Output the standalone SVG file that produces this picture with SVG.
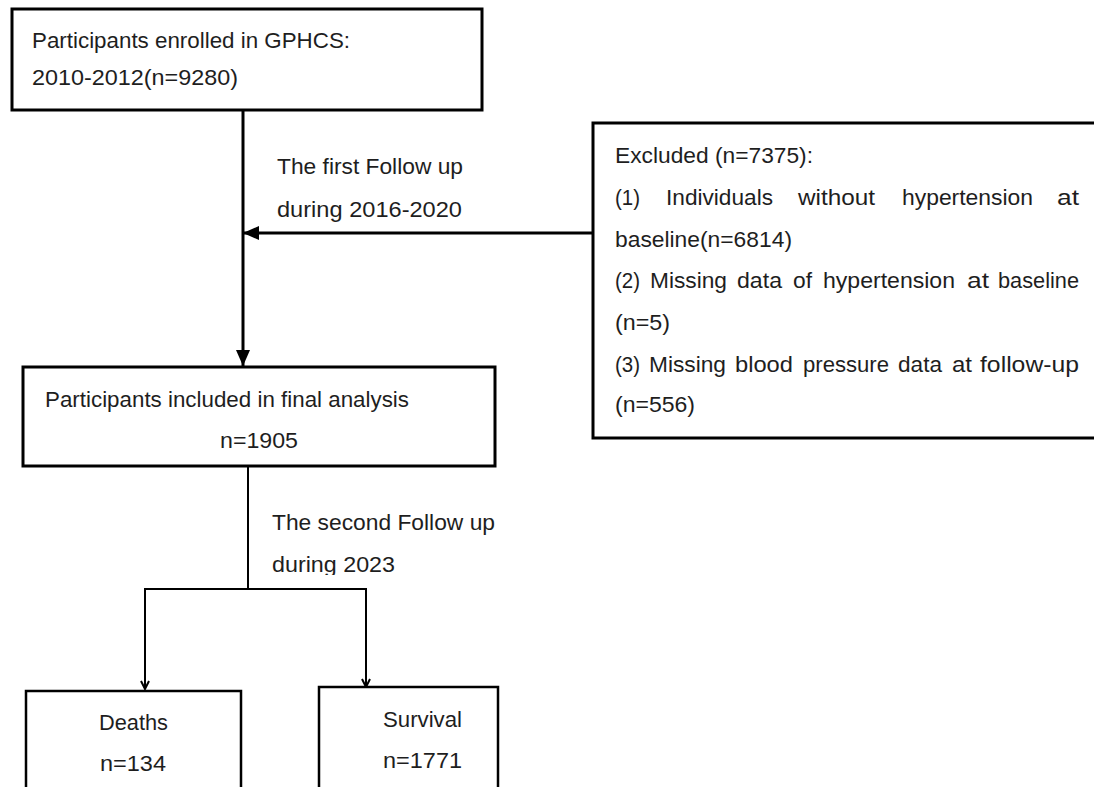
<svg xmlns="http://www.w3.org/2000/svg" width="1094" height="787" viewBox="0 0 1094 787">
<style>
.box{fill:#fff;stroke:#000;stroke-width:3}
.box2{fill:#fff;stroke:#000;stroke-width:2.5}
.t{font-family:"Liberation Sans",Arial,sans-serif;font-size:22px;fill:#1e1e1e}
.c{fill:none;stroke:#000;stroke-width:3}
.c2{fill:none;stroke:#000;stroke-width:2}
</style>
<defs>
<marker id="af" viewBox="0 0 16 14" refX="16" refY="7" markerWidth="16" markerHeight="14" orient="auto" markerUnits="userSpaceOnUse"><path d="M0,0 L16,7 L0,14 Z" fill="#000"/></marker>
<marker id="as" viewBox="0 0 10 10" refX="9" refY="5" markerWidth="10" markerHeight="10" orient="auto" markerUnits="userSpaceOnUse"><path d="M1,1 L9,5 L1,9" fill="none" stroke="#000" stroke-width="2"/></marker>
<clipPath id="clip2023"><rect x="260" y="540" width="300" height="35"/></clipPath>
</defs>
<rect width="1094" height="787" fill="#fff"/>
<g id="connectors">
<path class="c" d="M243,110 L243,366" marker-end="url(#af)"/>
<path class="c" d="M593,233 L243,233" marker-end="url(#af)"/>
<path class="c2" d="M248,466 L248,589 M145,589 L366,589"/>
<path class="c2" d="M145,588 L145,689" marker-end="url(#as)"/>
<path class="c2" d="M366,588 L366,687" marker-end="url(#as)"/>
<text class="t" x="277" y="174" textLength="186" lengthAdjust="spacingAndGlyphs">The first Follow up</text>
<text class="t" x="277" y="217" textLength="185" lengthAdjust="spacingAndGlyphs">during 2016-2020</text>
<text class="t" x="272" y="530" textLength="223" lengthAdjust="spacingAndGlyphs">The second Follow up</text>
<text class="t" x="272" y="572" textLength="123" lengthAdjust="spacingAndGlyphs" clip-path="url(#clip2023)">during 2023</text>
</g>
<g id="enrolled">
<rect class="box" x="12" y="9" width="470" height="101"/>
<text class="t" x="32" y="48" textLength="318" lengthAdjust="spacingAndGlyphs">Participants enrolled in GPHCS:</text>
<text class="t" x="32" y="85" textLength="206" lengthAdjust="spacingAndGlyphs">2010-2012(n=9280)</text>
</g>
<g id="excluded">
<rect class="box" x="593" y="123" width="520" height="315"/>
<text class="t" x="615" y="163" textLength="198" lengthAdjust="spacingAndGlyphs">Excluded (n=7375):</text>
<text class="t" x="615" y="205" textLength="25" lengthAdjust="spacingAndGlyphs">(1)</text>
<text class="t" x="666" y="205" textLength="107" lengthAdjust="spacingAndGlyphs">Individuals</text>
<text class="t" x="798" y="205" textLength="77" lengthAdjust="spacingAndGlyphs">without</text>
<text class="t" x="902" y="205" textLength="131" lengthAdjust="spacingAndGlyphs">hypertension</text>
<text class="t" x="1057" y="205" textLength="22" lengthAdjust="spacingAndGlyphs">at</text>
<text class="t" x="615" y="247" textLength="177" lengthAdjust="spacingAndGlyphs">baseline(n=6814)</text>
<text class="t" x="615" y="288" textLength="25" lengthAdjust="spacingAndGlyphs">(2)</text>
<text class="t" x="650" y="288" textLength="77" lengthAdjust="spacingAndGlyphs">Missing</text>
<text class="t" x="737" y="288" textLength="45" lengthAdjust="spacingAndGlyphs">data</text>
<text class="t" x="793" y="288" textLength="19" lengthAdjust="spacingAndGlyphs">of</text>
<text class="t" x="823" y="288" textLength="132" lengthAdjust="spacingAndGlyphs">hypertension</text>
<text class="t" x="967" y="288" textLength="22" lengthAdjust="spacingAndGlyphs">at</text>
<text class="t" x="998" y="288" textLength="81" lengthAdjust="spacingAndGlyphs">baseline</text>
<text class="t" x="615" y="330" textLength="55" lengthAdjust="spacingAndGlyphs">(n=5)</text>
<text class="t" x="615" y="372" textLength="25" lengthAdjust="spacingAndGlyphs">(3)</text>
<text class="t" x="649" y="372" textLength="77" lengthAdjust="spacingAndGlyphs">Missing</text>
<text class="t" x="735" y="372" textLength="58" lengthAdjust="spacingAndGlyphs">blood</text>
<text class="t" x="803" y="372" textLength="86" lengthAdjust="spacingAndGlyphs">pressure</text>
<text class="t" x="898" y="372" textLength="44" lengthAdjust="spacingAndGlyphs">data</text>
<text class="t" x="952" y="372" textLength="20" lengthAdjust="spacingAndGlyphs">at</text>
<text class="t" x="980" y="372" textLength="99" lengthAdjust="spacingAndGlyphs">follow-up</text>
<text class="t" x="615" y="412" textLength="80" lengthAdjust="spacingAndGlyphs">(n=556)</text>
</g>
<g id="included">
<rect class="box" x="23" y="367" width="472" height="99"/>
<text class="t" x="45" y="407" textLength="364" lengthAdjust="spacingAndGlyphs">Participants included in final analysis</text>
<text class="t" x="220" y="448" textLength="78" lengthAdjust="spacingAndGlyphs">n=1905</text>
</g>
<g id="deaths">
<rect class="box2" x="26" y="691" width="215" height="130"/>
<text class="t" x="99" y="730" textLength="69" lengthAdjust="spacingAndGlyphs">Deaths</text>
<text class="t" x="100" y="771" textLength="66" lengthAdjust="spacingAndGlyphs">n=134</text>
</g>
<g id="survival">
<rect class="box2" x="319" y="687" width="179" height="130"/>
<text class="t" x="383" y="727" textLength="79" lengthAdjust="spacingAndGlyphs">Survival</text>
<text class="t" x="383" y="768" textLength="79" lengthAdjust="spacingAndGlyphs">n=1771</text>
</g>
</svg>
